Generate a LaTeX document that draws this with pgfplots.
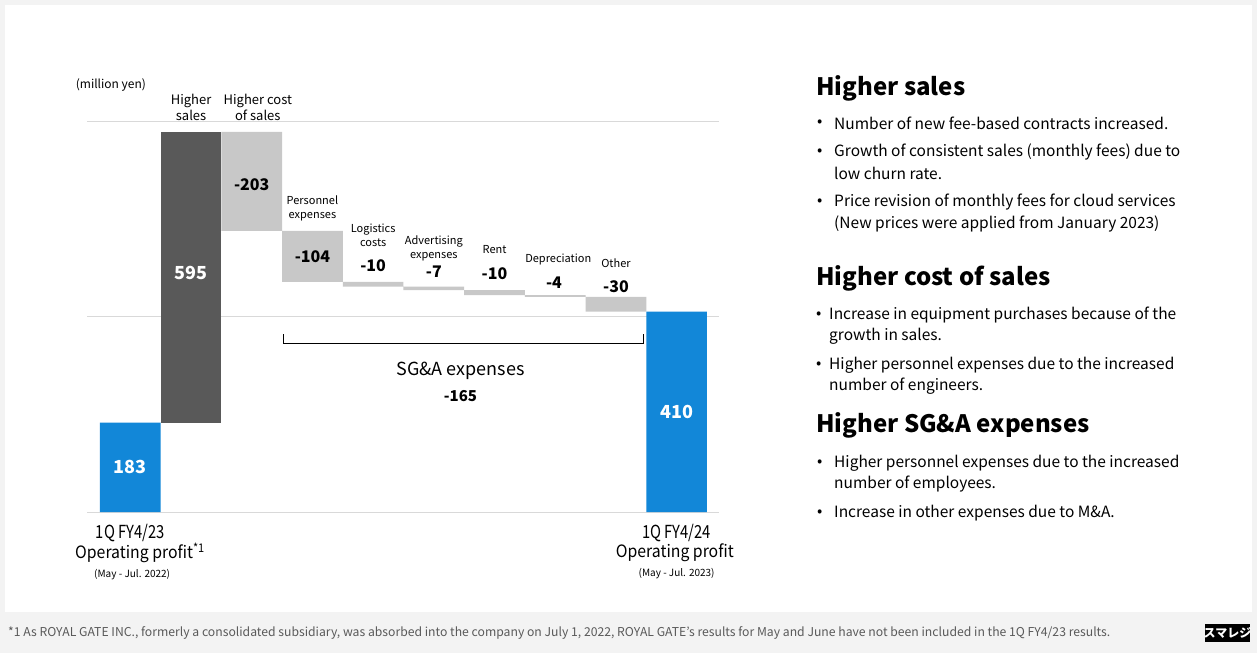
\documentclass[border=0pt]{standalone}
\usepackage{fontspec}
\setmainfont{Noto Sans CJK JP}
\newfontfamily\condensed[FakeStretch=0.82]{Noto Sans CJK JP}
\newfontfamily\semicond[FakeStretch=0.93]{Noto Sans CJK JP}
\usepackage{pgfplots}
\pgfplotsset{compat=1.18}
\definecolor{barblue}{HTML}{1287D8}
\definecolor{bardark}{HTML}{595959}
\definecolor{barlight}{HTML}{C8C8C8}
\definecolor{gridgray}{HTML}{D9D9D9}
\definecolor{bggray}{HTML}{F3F3F3}
\definecolor{txtgray}{HTML}{595959}
\newcommand\fs[2]{\fontsize{#1}{#2}\selectfont}
\begin{document}
\begin{tikzpicture}[x=1pt,y=-1pt]
\fill[bggray] (0,0) rectangle (1257,653);
\fill[white] (5,5) rectangle (1252,612);
\begin{axis}[
  at={(87pt,-512pt)}, anchor=south west,
  scale only axis, width=632pt, height=391pt,
  ybar stacked, bar width=1,
  xmin=-0.714, xmax=9.698, ymin=0, ymax=800,
  ytick={0,400,800}, yticklabels={}, xtick=\empty,
  ymajorgrids, grid style={draw=gridgray, line width=0.8pt},
  axis line style={draw=none}, major tick length=0pt,
  clip=false,
]
\addplot[fill=none, draw=none] coordinates {(0,0) (1,183) (2,575) (3,471) (4,461) (5,454) (6,444) (7,440) (8,410) (9,0)};
\addplot[fill=barblue, draw=none] coordinates {(0,183) (1,0) (2,0) (3,0) (4,0) (5,0) (6,0) (7,0) (8,0) (9,410)};
\addplot[fill=bardark, draw=none] coordinates {(0,0) (1,595) (2,0) (3,0) (4,0) (5,0) (6,0) (7,0) (8,0) (9,0)};
\addplot[fill=barlight, draw=none] coordinates {(0,0) (1,0) (2,203) (3,104) (4,10) (5,7) (6,10) (7,4) (8,30) (9,0)};
% label anchors
\coordinate (v0) at (axis cs:0,92);
\coordinate (v1) at (axis cs:1,489);
\coordinate (v9) at (axis cs:9,205);
\coordinate (v2) at (axis cs:2,669);
\coordinate (v3) at (axis cs:3,522);
\coordinate (v4) at (axis cs:4,503);
\coordinate (v5) at (axis cs:5,491);
\coordinate (v6) at (axis cs:6,487);
\coordinate (v7) at (axis cs:6.98,469);
\coordinate (v8) at (axis cs:8,460);
\coordinate (c1) at (axis cs:1,827);
\coordinate (c2) at (axis cs:2.1,827);
\coordinate (c3) at (axis cs:3,622);
\coordinate (c4) at (axis cs:4,567);
\coordinate (c5) at (axis cs:5,540);
\coordinate (c6) at (axis cs:6,536);
\coordinate (c7) at (axis cs:7.05,516);
\coordinate (c8) at (axis cs:8,509);
\coordinate (unit) at (axis cs:-0.32,874);
\coordinate (sga) at (axis cs:5.44,288);
\coordinate (sgav) at (axis cs:5.44,237);
\coordinate (b1) at (axis cs:0,-43);
\coordinate (b2) at (axis cs:0.16,-84);
\coordinate (b3) at (axis cs:0.03,-129);
\coordinate (d1) at (axis cs:9,-43);
\coordinate (d2) at (axis cs:8.97,-84);
\coordinate (d3) at (axis cs:9,-125);
% bracket
\draw[black, line width=0.8pt] (axis cs:2.515,364) -- (axis cs:2.515,344) -- (axis cs:8.46,344) -- (axis cs:8.46,364);
\end{axis}
% value labels
\node[text=white, font=\fs{18}{20}\bfseries] at (v0) {183};
\node[text=white, font=\fs{18}{20}\bfseries] at (v1) {595};
\node[text=white, font=\fs{18}{20}\bfseries] at (v9) {410};
\node[font=\fs{16}{18}\bfseries] at (v2) {-203};
\node[font=\fs{16}{18}\bfseries] at (v3) {-104};
\node[font=\fs{16}{18}\bfseries] at (v4) {-10};
\node[font=\fs{16}{18}\bfseries] at (v5) {-7};
\node[font=\fs{16}{18}\bfseries] at (v6) {-10};
\node[font=\fs{16}{18}\bfseries] at (v7) {-4};
\node[font=\fs{16}{18}\bfseries] at (v8) {-30};
% category labels
\node[align=center, font=\fs{13}{16}] at (c1) {Higher\\sales};
\node[align=center, font=\fs{13}{16}] at (c2) {Higher cost\\of sales};
\node[align=center, font=\fs{11}{14}] at (c3) {Personnel\\expenses};
\node[align=center, font=\fs{11}{14}] at (c4) {Logistics\\costs};
\node[align=center, font=\fs{11}{14}] at (c5) {Advertising\\expenses};
\node[font=\fs{11}{14}] at (c6) {Rent};
\node[font=\fs{11}{14}] at (c7) {Depreciation};
\node[font=\fs{11}{14}] at (c8) {Other};
\node[font=\fs{12}{14}] at (unit) {(million yen)};
\node[font=\fs{18}{20}] at (sga) {SG\&A expenses};
\node[font=\fs{15}{18}\bfseries] at (sgav) {-165};
% bottom labels
\node[font=\condensed\fs{18}{20}] at (b1) {1Q FY4/23};
\node[font=\semicond\fs{17}{20}] at (b2) {Operating profit\textsuperscript{*1}};
\node[font=\fs{10}{12}] at (b3) {(May - Jul. 2022)};
\node[font=\condensed\fs{18}{20}] at (d1) {1Q FY4/24};
\node[font=\semicond\fs{17}{20}] at (d2) {Operating profit};
\node[font=\fs{10}{12}] at (d3) {(May - Jul. 2023)};
% right text
\begin{scope}[every node/.style={anchor=west, inner sep=0pt}]
\node[font=\fs{24}{28}\bfseries] at (816,88) {Higher sales};
\node[font=\fs{15.5}{18}] at (817,123) {•};
\node[font=\fs{15.5}{18}] at (834,123) {Number of new fee-based contracts increased.};
\node[font=\fs{15.5}{18}] at (817,152) {•};
\node[font=\fs{15.5}{18}] at (834,152) {Growth of consistent sales (monthly fees) due to};
\node[font=\fs{15.5}{18}] at (834,173) {low churn rate.};
\node[font=\fs{15.5}{18}] at (817,202) {•};
\node[font=\fs{15.5}{18}] at (834,202) {Price revision of monthly fees for cloud services};
\node[font=\fs{15.5}{18}] at (834,224) {(New prices were applied from January 2023)};
\node[font=\fs{24}{28}\bfseries] at (816,278) {Higher cost of sales};
\node[font=\fs{15.5}{18}] at (816,315) {•};
\node[font=\fs{15.5}{18}] at (829,315) {Increase in equipment purchases because of the};
\node[font=\fs{15.5}{18}] at (829,336) {growth in sales.};
\node[font=\fs{15.5}{18}] at (816,365) {•};
\node[font=\fs{15.5}{18}] at (829,365) {Higher personnel expenses due to the increased};
\node[font=\fs{15.5}{18}] at (829,386) {number of engineers.};
\node[font=\fs{24}{28}\bfseries] at (816,425) {Higher SG\&A expenses};
\node[font=\fs{15.5}{18}] at (817,463) {•};
\node[font=\fs{15.5}{18}] at (834,463) {Higher personnel expenses due to the increased};
\node[font=\fs{15.5}{18}] at (834,484) {number of employees.};
\node[font=\fs{15.5}{18}] at (817,513) {•};
\node[font=\fs{15.5}{18}] at (834,513) {Increase in other expenses due to M\&A.};
% footer
\node[font=\fs{12.2}{14}, text=txtgray] at (8,633) {*1 As ROYAL GATE INC., formerly a consolidated subsidiary, was absorbed into the company on July 1, 2022, ROYAL GATE's results for May and June have not been included in the 1Q FY4/23 results.};
\end{scope}
\fill[black] (1205,624) rectangle (1250,642);
\node[text=white, font=\fs{12}{14}\bfseries, inner sep=0pt] at (1227.5,633) {スマレジ};
\end{tikzpicture}
\end{document}
